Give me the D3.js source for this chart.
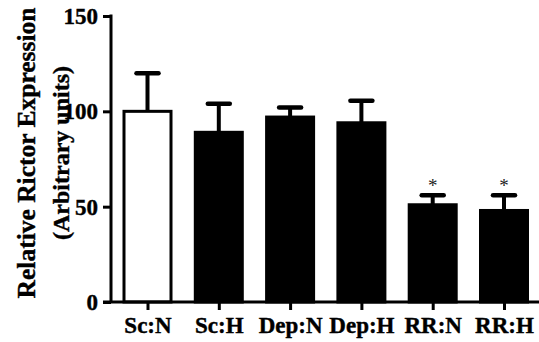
<!DOCTYPE html>
<html>
<head>
<meta charset="utf-8">
<script src="https://cdn.jsdelivr.net/npm/d3@7/dist/d3.min.js"></script>
<style>
  html, body { margin: 0; padding: 0; background: #fff; }
  svg { display: block; }
  text { font-family: "Liberation Serif", "Times New Roman", serif; font-weight: bold; fill: #000; }
</style>
</head>
<body>
<svg id="chart" width="539" height="342"></svg>
<script>
// Groups and measured Rictor expression (mean and error)
const categories = ["Sc:N", "Sc:H", "Dep:N", "Dep:H", "RR:N", "RR:H"];
const means = [100, 89, 97, 94, 51, 48];
const errors = [20, 15, 5, 11.5, 5, 8];
const significant = [false, false, false, false, true, true];
const yTicks = [0, 50, 100, 150];
const titleLines = ["Relative Rictor Expression", "(Arbitrary units)"];

const svg = d3.select("#chart");

const y = d3.scaleLinear().domain([0, 150]).range([302, 16]);
const x = d3.scalePoint().domain(categories).range([147.5, 504]);
const barW = 47;

// Bars
svg.append("g").selectAll("rect")
  .data(categories)
  .join("rect")
  .attr("x", d => x(d) - barW / 2)
  .attr("y", (d, i) => y(means[i]))
  .attr("width", barW)
  .attr("height", (d, i) => y(0) - y(means[i]))
  .attr("fill", (d, i) => i === 0 ? "#fff" : "#000")
  .attr("stroke", "#000")
  .attr("stroke-width", 3);

// Error bars (upper only)
const eb = svg.append("g").attr("stroke", "#000");
eb.selectAll("line.stem")
  .data(categories)
  .join("line")
  .attr("class", "stem")
  .attr("x1", d => x(d)).attr("x2", d => x(d))
  .attr("y1", (d, i) => y(means[i]))
  .attr("y2", (d, i) => y(means[i] + errors[i]))
  .attr("stroke-width", 4);
eb.selectAll("line.cap")
  .data(categories)
  .join("line")
  .attr("class", "cap")
  .attr("x1", d => x(d) - 11).attr("x2", d => x(d) + 11)
  .attr("y1", (d, i) => y(means[i] + errors[i]))
  .attr("y2", (d, i) => y(means[i] + errors[i]))
  .attr("stroke-width", 4.5)
  .attr("stroke-linecap", "round");

// Significance markers
svg.append("g").selectAll("text")
  .data(categories.filter((d, i) => significant[i]))
  .join("text")
  .attr("x", d => x(d))
  .attr("y", d => { const i = categories.indexOf(d); return y(means[i] + errors[i]) - 3; })
  .attr("text-anchor", "middle")
  .style("font-weight", "normal")
  .style("font-size", "19px")
  .style("fill", "#222")
  .text("*");

// Y axis
const yAxis = svg.append("g")
  .attr("transform", "translate(111,0)")
  .call(d3.axisLeft(y).tickValues(yTicks).tickSize(8).tickSizeOuter(0).tickPadding(5));
yAxis.selectAll("path, line").attr("stroke", "#000").attr("stroke-width", 3);
yAxis.select(".domain").attr("d", `M0,${y(150) - 1.5}V${y(0)}`);
yAxis.selectAll("text")
  .style("font-size", "23px").style("font-family", null)
  .attr("fill", "#000").attr("stroke", "#000").attr("stroke-width", 0.4);

// X axis
const xAxis = svg.append("g")
  .attr("transform", `translate(0,${y(0)})`)
  .call(d3.axisBottom(x).tickSize(8).tickSizeOuter(0).tickPadding(7));
xAxis.select(".domain").remove();
xAxis.selectAll("line").attr("stroke", "#000").attr("stroke-width", 3);
xAxis.selectAll("text")
  .style("font-size", "23px").style("font-family", null)
  .attr("fill", "#000").attr("stroke", "#000").attr("stroke-width", 0.4);
xAxis.append("line")
  .attr("x1", 103).attr("x2", 539)
  .attr("stroke", "#000").attr("stroke-width", 3);

// Y title
const title = svg.append("g");
title.selectAll("text")
  .data(titleLines)
  .join("text")
  .attr("transform", (d, i) => `translate(${i === 0 ? 35 : 69},153) rotate(-90)`)
  .attr("text-anchor", "middle")
  .style("font-size", (d, i) => i === 0 ? "25.5px" : "24px")
  .attr("stroke", "#000").attr("stroke-width", 0.4)
  .text(d => d);
</script>
</body>
</html>
